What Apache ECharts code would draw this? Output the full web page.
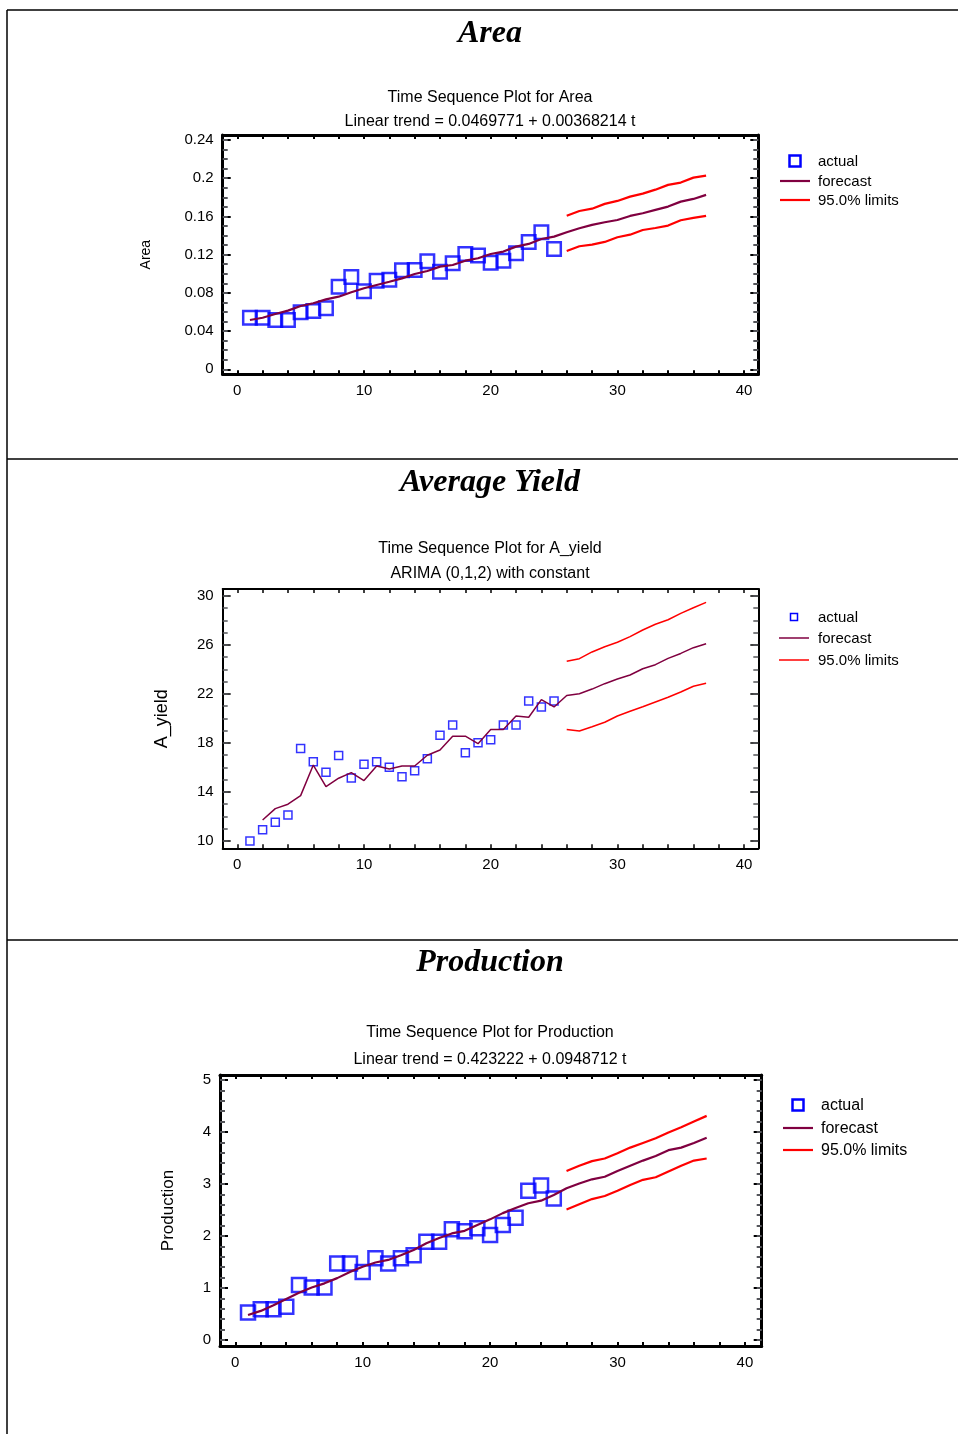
<!DOCTYPE html>
<html>
<head>
<meta charset="utf-8">
<script src="https://cdn.jsdelivr.net/npm/echarts@6/dist/echarts.min.js"></script>
<style>
  html, body { margin: 0; padding: 0; background: #fff; }
  #main { width: 958px; height: 1434px; }
</style>
</head>
<body>
<div id="main"></div>
<script>
// time index of the first value in each kind of array
const actualStart = 1;
const limitStart = 26;

// Area
const areaActual = [0.054, 0.054, 0.0516, 0.0516, 0.0597, 0.061, 0.064, 0.0865, 0.0966, 0.0816, 0.0928, 0.0938, 0.1036,
  0.104, 0.113, 0.102, 0.111, 0.1207, 0.119, 0.1116, 0.1137, 0.1214, 0.1333, 0.1434, 0.126];
const areaForecastStart = 1;
const areaForecast = [0.0516, 0.054, 0.0579, 0.0614, 0.0663, 0.0691, 0.0732, 0.076, 0.0806, 0.0848, 0.0883, 0.0917,
  0.0952, 0.0998, 0.1029, 0.1075, 0.1092, 0.1137, 0.1162, 0.1207, 0.1232, 0.1284, 0.1312, 0.1364, 0.1389,
  0.1434, 0.1476, 0.1511, 0.1539, 0.1563, 0.1605, 0.1633, 0.1668, 0.1703, 0.1755, 0.1783, 0.1825];
const areaUpper = [0.1608, 0.1657, 0.1681, 0.1731, 0.1762, 0.1807, 0.1839, 0.188, 0.193, 0.1954, 0.2006, 0.2027];
const areaLower = [0.1239, 0.1288, 0.1305, 0.1333, 0.1382, 0.1409, 0.1458, 0.1479, 0.1504, 0.156, 0.1584, 0.1605];
const areaTicks = [0, 0.04, 0.08, 0.12, 0.16, 0.2, 0.24];

// Average yield
const yieldActual = [10.0, 10.92, 11.52, 12.12, 17.55, 16.47, 15.6, 16.97, 15.14, 16.26, 16.47, 16.02, 15.25, 15.74,
  16.72, 18.63, 19.47, 17.21, 18.02, 18.27, 19.47, 19.47, 21.43, 20.94, 21.43];
const yieldForecastStart = 2;
const yieldForecast = [11.71, 12.64, 13.0, 13.7, 16.2, 14.43, 15.12, 15.58, 14.93, 16.12, 15.88, 16.12, 16.12, 17.0,
  17.43, 18.55, 18.55, 17.94, 19.1, 19.1, 20.2, 20.1, 21.54, 20.94,
  21.88, 22.02, 22.4, 22.84, 23.22, 23.55, 24.06, 24.39, 24.91, 25.31, 25.78, 26.1];
const yieldUpper = [24.67, 24.88, 25.43, 25.86, 26.22, 26.68, 27.22, 27.69, 28.06, 28.58, 29.04, 29.48];
const yieldLower = [19.09, 18.98, 19.33, 19.69, 20.2, 20.59, 20.96, 21.35, 21.73, 22.16, 22.63, 22.87];
const yieldTicks = [10, 14, 18, 22, 26, 30];

// Production
const prodActual = [0.53, 0.59, 0.59, 0.64, 1.06, 1.01, 1.01, 1.47, 1.47, 1.31, 1.57, 1.47, 1.57, 1.63, 1.89, 1.89,
  2.13, 2.09, 2.15, 2.02, 2.21, 2.35, 2.87, 2.97, 2.72];
const prodForecastStart = 1;
const prodForecast = [0.48, 0.56, 0.67, 0.79, 0.91, 1.01, 1.09, 1.19, 1.31, 1.41, 1.49, 1.54, 1.63, 1.73, 1.86, 1.96,
  2.05, 2.10, 2.21, 2.32, 2.44, 2.54, 2.63, 2.68, 2.79,
  2.92, 3.01, 3.09, 3.14, 3.25, 3.35, 3.45, 3.54, 3.65, 3.70, 3.79, 3.89];
const prodUpper = [3.25, 3.35, 3.44, 3.49, 3.59, 3.70, 3.79, 3.88, 3.99, 4.09, 4.20, 4.31];
const prodLower = [2.51, 2.61, 2.71, 2.77, 2.87, 2.98, 3.08, 3.13, 3.24, 3.35, 3.45, 3.49];
const prodTicks = [0, 1, 2, 3, 4, 5];

const timeTicks = [0, 10, 20, 30, 40];
const legendNames = ['actual', 'forecast', '95.0% limits'];

const FONT = 'Liberation Sans';
const BLUE = '#0000ff';
const MAROON = '#800040';
const RED = '#ff0000';

function pairs(start, values) {
  return values.map((v, i) => [start + i, v]);
}

function steps(from, to, step) {
  const out = [];
  const n = Math.round((to - from) / step);
  for (let i = 0; i <= n; i++) out.push(+(from + i * step).toFixed(4));
  return out;
}

const xAxes = [];
const yAxes = [];
const series = [];

// one framed plot: bottom/top x axes, left/right y axes with long and short ticks
function addPanel(p) {
  const xi = xAxes.length;
  const yi = yAxes.length;
  const line = { show: true, onZero: false, lineStyle: { color: '#000', width: p.lineW } };
  const noLine = { show: false, onZero: false };
  const label = { show: true, color: '#000', fontSize: 15, fontFamily: FONT, margin: 9 };
  const xMinor = steps(0, 40, 2);
  const yMinor = steps(p.yTicks[0], p.yTicks[p.yTicks.length - 1], p.yMinorStep);
  const base = { type: 'value', gridIndex: p.grid, splitLine: { show: false } };
  const xb = Object.assign({}, base, { min: p.xMin, max: p.xMax });
  const yb = Object.assign({}, base, { min: p.yMin, max: p.yMax });

  xAxes.push(Object.assign({}, xb, {
    position: 'bottom', axisLine: line,
    axisTick: { show: true, inside: true, length: 4, customValues: xMinor, lineStyle: { width: p.tickW } },
    axisLabel: Object.assign({}, label, { customValues: timeTicks })
  }));
  xAxes.push(Object.assign({}, xb, {
    position: 'top', axisLine: line,
    axisTick: { show: true, inside: true, length: 4, customValues: xMinor, lineStyle: { width: p.tickW } },
    axisLabel: { show: false }
  }));

  yAxes.push(Object.assign({}, yb, {
    position: 'left', axisLine: line,
    axisTick: { show: true, inside: true, length: 8, customValues: p.yTicks, lineStyle: { width: p.tickW } },
    axisLabel: Object.assign({}, label, { customValues: p.yTicks }),
    name: p.name, nameLocation: 'middle', nameGap: p.nameGap,
    nameTextStyle: { color: '#000', fontSize: p.nameSize, fontFamily: FONT }
  }));
  yAxes.push(Object.assign({}, yb, {
    position: 'left', axisLine: noLine,
    axisTick: { show: true, inside: true, length: 5, customValues: yMinor, lineStyle: { width: p.tickW } },
    axisLabel: { show: false }
  }));
  yAxes.push(Object.assign({}, yb, {
    position: 'right', axisLine: line,
    axisTick: { show: true, inside: true, length: 8, customValues: p.yTicks, lineStyle: { width: p.tickW } },
    axisLabel: { show: false }
  }));
  yAxes.push(Object.assign({}, yb, {
    position: 'right', axisLine: noLine,
    axisTick: { show: true, inside: true, length: 5, customValues: yMinor, lineStyle: { width: p.tickW } },
    axisLabel: { show: false }
  }));

  const ax = { xAxisIndex: xi, yAxisIndex: yi };
  series.push(Object.assign({
    name: 'actual', type: 'scatter', symbol: 'rect', symbolSize: p.boxSize, z: 2,
    itemStyle: { color: 'rgba(0,0,0,0)', borderColor: BLUE, borderWidth: p.boxW },
    data: pairs(actualStart, p.actual)
  }, ax));
  series.push(Object.assign({
    name: 'forecast', type: 'line', symbol: 'none', z: 3,
    lineStyle: { color: MAROON, width: p.lineWidth }, itemStyle: { color: MAROON },
    data: pairs(p.forecastStart, p.forecast)
  }, ax));
  [p.upper, p.lower].forEach(function (vals) {
    series.push(Object.assign({
      name: '95.0% limits', type: 'line', symbol: 'none', z: 3,
      lineStyle: { color: RED, width: p.lineWidth }, itemStyle: { color: RED },
      data: pairs(limitStart, vals)
    }, ax));
  });
}

addPanel({
  grid: 0, xMin: -1.15, xMax: 41.12, yMin: -0.0052, yMax: 0.2452, yTicks: areaTicks, yMinorStep: 0.01,
  lineW: 3, tickW: 2, name: 'Area', nameGap: 70, nameSize: 14,
  actual: areaActual, forecastStart: areaForecastStart, forecast: areaForecast, upper: areaUpper, lower: areaLower,
  boxSize: 13.5, boxW: 2.5, lineWidth: 2.2
});
addPanel({
  grid: 1, xMin: -1.15, xMax: 41.12, yMin: 9.4, yMax: 30.57, yTicks: yieldTicks, yMinorStep: 1,
  lineW: 2, tickW: 1.5, name: 'A_yield', nameGap: 52, nameSize: 18,
  actual: yieldActual, forecastStart: yieldForecastStart, forecast: yieldForecast, upper: yieldUpper, lower: yieldLower,
  boxSize: 8, boxW: 1.5, lineWidth: 1.5
});
addPanel({
  grid: 2, xMin: -1.2, xMax: 41.32, yMin: -0.115, yMax: 5.096, yTicks: prodTicks, yMinorStep: 0.2,
  lineW: 3, tickW: 2, name: 'Production', nameGap: 43, nameSize: 17,
  actual: prodActual, forecastStart: prodForecastStart, forecast: prodForecast, upper: prodUpper, lower: prodLower,
  boxSize: 14, boxW: 2.5, lineWidth: 2.2
});

function titleText(text, top, big) {
  return {
    text: text, left: 490, top: top, textAlign: 'center', padding: 0,
    textStyle: big
      ? { fontFamily: 'Liberation Serif', fontStyle: 'italic', fontWeight: 'bold', fontSize: 32, color: '#000' }
      : { fontFamily: FONT, fontWeight: 'normal', fontSize: 16, color: '#000' }
  };
}

// legend drawn by hand: hollow square, then two line samples, with labels
function legendGraphic(l) {
  const items = [];
  const mid = l.x + 15;
  items.push({
    type: 'rect', shape: { x: mid - l.box / 2, y: l.rows[0] - l.box / 2, width: l.box, height: l.box },
    style: { fill: 'none', stroke: BLUE, lineWidth: l.boxW }
  });
  [MAROON, RED].forEach(function (c, i) {
    items.push({
      type: 'line', shape: { x1: l.x, y1: l.rows[i + 1], x2: l.x + 30, y2: l.rows[i + 1] },
      style: { stroke: c, lineWidth: l.lineW }
    });
  });
  legendNames.forEach(function (name, i) {
    items.push({
      type: 'text', x: l.textX, y: l.rows[i] + 1,
      style: { text: name, fill: '#000', font: l.fontSize + 'px "' + FONT + '"', verticalAlign: 'middle' }
    });
  });
  return items;
}

const frame = { stroke: '#000', lineWidth: 1.5 };

const chart = echarts.init(document.getElementById('main'), null, { renderer: 'canvas' });
chart.setOption({
  animation: false,
  backgroundColor: '#fff',
  title: [
    titleText('Area', 18, true),
    titleText('Time Sequence Plot for Area', 90),
    titleText('Linear trend = 0.0469771 + 0.00368214 t', 114),
    titleText('Average Yield', 467, true),
    titleText('Time Sequence Plot for A_yield', 541),
    titleText('ARIMA (0,1,2) with constant', 566),
    titleText('Production', 947, true),
    titleText('Time Sequence Plot for Production', 1025),
    titleText('Linear trend = 0.423222 + 0.0948712 t', 1052)
  ],
  grid: [
    { left: 222.7, top: 135, width: 535.6, height: 239.3 },
    { left: 222.7, top: 589, width: 535.6, height: 259.3 },
    { left: 220, top: 1075, width: 541.7, height: 271 }
  ],
  xAxis: xAxes,
  yAxis: yAxes,
  series: series,
  graphic: [
    { type: 'line', shape: { x1: 7, y1: 10, x2: 958, y2: 10 }, style: frame },
    { type: 'line', shape: { x1: 7, y1: 10, x2: 7, y2: 1434 }, style: frame },
    { type: 'line', shape: { x1: 7, y1: 459, x2: 958, y2: 459 }, style: frame },
    { type: 'line', shape: { x1: 7, y1: 940, x2: 958, y2: 940 }, style: frame }
  ].concat(
    legendGraphic({ x: 780, rows: [161, 181, 200], box: 11, boxW: 2.5, lineW: 2.2, textX: 818, fontSize: 15 }),
    legendGraphic({ x: 779, rows: [617, 638, 660], box: 7, boxW: 1.5, lineW: 1.5, textX: 818, fontSize: 15 }),
    legendGraphic({ x: 783, rows: [1105, 1128, 1150], box: 11, boxW: 2.5, lineW: 2.2, textX: 821, fontSize: 16 })
  )
});
</script>
</body>
</html>
